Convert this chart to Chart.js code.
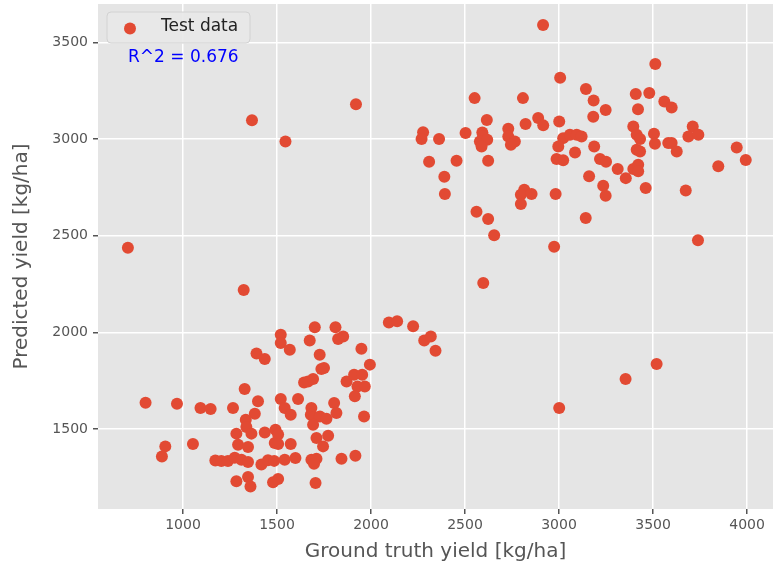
<!DOCTYPE html>
<html>
<head>
<meta charset="utf-8">
<script src="https://cdn.jsdelivr.net/npm/chart.js@4/dist/chart.umd.min.js"></script>
<style>
  html, body { margin: 0; padding: 0; background: #fff; }
  #wrap { width: 775px; height: 569px; }
</style>
</head>
<body>
<div id="wrap"><canvas id="scatterChart"></canvas></div>
<script>
// Test set: ground truth vs predicted yield (kg/ha)
const groundTruth = [
  2915, 1920, 1545, 1367, 2277, 2269, 2362, 2309, 2390, 2393,
  3006, 2551, 2808, 3143, 3184, 3248, 3182, 2616, 2889, 2916,
  2822, 3001, 2503, 2592, 2597, 2579, 2618, 2588, 2623, 2455,
  2730, 2730, 2765, 2744, 3022, 3058, 3094, 3120, 2996, 2987,
  3022, 3085, 3187, 3218, 3250, 3160, 3512, 3408, 3480, 3560,
  3599, 3420, 3395, 3413, 3431, 3505, 3510, 3581, 3599, 3626,
  3711, 3688, 3741, 3945, 3993, 3847, 3413, 3431, 3312, 3355,
  3395, 3421, 3421, 2561, 2623, 2655, 2597, 2815, 2797, 2854,
  2797, 2982, 2974, 3235, 3248, 3142, 3461, 3674, 3739, 707,
  1323, 3001, 3519, 3354,
  2095, 2139, 2224, 2283, 2318, 2343, 1520, 1520, 1568, 1701,
  1674, 1811, 1852, 1825, 1949, 801, 968, 1093, 1147, 1266,
  1328, 1399, 1382, 1391, 1435, 1334, 1337, 1364, 1435, 1284,
  1293, 1346, 906, 888, 1053, 1172, 1204, 1239, 1275, 1311,
  1346, 1417, 1452, 1485, 1541, 1598, 1284, 1346, 1359, 1479,
  1506, 1488, 1727, 1736, 1750, 1994, 1644, 1665, 1692, 1870,
  1910, 1953, 1928, 1967, 1914, 1520, 1612, 1541, 1573, 1683,
  1680, 1697, 1728, 1763, 1804, 1816, 1963, 1692, 1492, 1506,
  1506, 1573, 1710, 1772, 1745, 1683, 1710, 1697, 1843, 1917,
  1705
];
const predicted = [
  3590, 3180, 2988, 3097, 3036, 3000, 3000, 2883, 2805, 2716,
  3317, 3212, 3212, 3259, 3200, 3150, 3116, 3099, 3109, 3071,
  3078, 3091, 3031, 3034, 3013, 2988, 2996, 2962, 2888, 2888,
  3053, 3014, 2988, 2971, 3005, 3022, 3022, 3014, 2962, 2897,
  2890, 2931, 2962, 2897, 2883, 2808, 3388, 3233, 3238, 3195,
  3164, 3155, 3065, 3022, 3000, 3028, 2976, 2980, 2980, 2936,
  3065, 3014, 3022, 2957, 2892, 2859, 2945, 2936, 2845, 2798,
  2845, 2867, 2833, 2624, 2586, 2502, 2255, 2738, 2712, 2716,
  2664, 2716, 2443, 2759, 2707, 2592, 2747, 2734, 2476, 2438,
  2219, 1609, 1836, 1759,
  2051, 2057, 2031, 1958, 1979, 1905, 1988, 1945, 1910, 2026,
  1958, 2026, 1979, 1966, 1915, 1636, 1631, 1609, 1604, 1609,
  1707, 1643, 1579, 1890, 1862, 1548, 1510, 1476, 1482, 1476,
  1419, 1407, 1410, 1358, 1422, 1337, 1334, 1334, 1351, 1341,
  1329, 1316, 1338, 1335, 1341, 1350, 1229, 1252, 1203, 1224,
  1241, 1428, 1884, 1810, 1815, 1833, 1741, 1746, 1759, 1746,
  1781, 1781, 1720, 1720, 1669, 1655, 1655, 1609, 1574, 1609,
  1574, 1562, 1565, 1553, 1634, 1583, 1565, 1522, 1496, 1471,
  1422, 1422, 1453, 1465, 1410, 1341, 1346, 1320, 1346, 1362,
  1221
];
const xTicks = [1000, 1500, 2000, 2500, 3000, 3500, 4000];
const yTicks = [1500, 2000, 2500, 3000, 3500];
const rSquared = 0.676;

const points = groundTruth.map((x, i) => ({ x: x, y: predicted[i] }));

// ggplot-like panel background, legend frame and R^2 note
const panelPlugin = {
  id: 'panel',
  beforeDraw(chart) {
    const { ctx, chartArea: a } = chart;
    ctx.save();
    ctx.fillStyle = '#e5e5e5';
    ctx.fillRect(a.left, a.top, a.right - a.left, a.bottom - a.top);
    ctx.restore();
  },
  afterDraw(chart) {
    const { ctx, chartArea: a } = chart;
    const ds = chart.data.datasets[0];
    const bx = a.left + 9, by = a.top + 8, bw = 143, bh = 31;
    ctx.save();
    ctx.beginPath();
    ctx.roundRect(bx, by, bw, bh, 4);
    ctx.fillStyle = 'rgba(232,232,232,0.9)';
    ctx.fill();
    ctx.strokeStyle = '#d2d2d2';
    ctx.lineWidth = 1;
    ctx.stroke();

    ctx.beginPath();
    ctx.arc(bx + 23, by + 16.5, 6, 0, Math.PI * 2);
    ctx.fillStyle = ds.backgroundColor;
    ctx.fill();

    ctx.font = '17px "DejaVu Sans"';
    ctx.fillStyle = '#222';
    ctx.textBaseline = 'middle';
    ctx.fillText(ds.label, bx + 54, by + 15);

    ctx.fillStyle = '#0000ff';
    ctx.fillText('R^2 = ' + rSquared.toFixed(3), a.left + 30, a.top + 54);
    ctx.restore();
  }
};

const plainTick = v => String(v);

const scatterChart = new Chart(document.getElementById('scatterChart'), {
  type: 'scatter',
  data: {
    datasets: [{
      label: 'Test data',
      data: points,
      backgroundColor: '#e24a33',
      borderWidth: 0,
      pointRadius: 6,
      pointHoverRadius: 6
    }]
  },
  options: {
    responsive: true,
    maintainAspectRatio: false,
    animation: false,
    layout: { autoPadding: false, padding: { top: 4, right: 2, left: 0, bottom: 0 } },
    plugins: {
      legend: { display: false },
      tooltip: { enabled: false }
    },
    scales: {
      x: {
        min: 548,
        max: 4138,
        afterFit: s => { s.height = 60; s.paddingLeft = 0; s.paddingRight = 0; },
        afterBuildTicks: s => { s.ticks = xTicks.map(v => ({ value: v })); },
        grid: { color: '#ffffff', lineWidth: 1.5, tickColor: '#555', tickLength: 5 },
        border: { display: false },
        ticks: { color: '#555', padding: 3, callback: plainTick, font: { family: 'DejaVu Sans', size: 14 } },
        title: {
          display: true,
          text: 'Ground truth yield [kg/ha]',
          color: '#555',
          padding: { top: 0, bottom: 5 },
          font: { family: 'DejaVu Sans', size: 20 }
        }
      },
      y: {
        min: 1086,
        max: 3699,
        afterFit: s => { s.width = 98; s.paddingTop = 0; s.paddingBottom = 0; },
        afterBuildTicks: s => { s.ticks = yTicks.map(v => ({ value: v })); },
        grid: { color: '#ffffff', lineWidth: 1.5, tickColor: '#555', tickLength: 5 },
        border: { display: false },
        ticks: { color: '#555', padding: 5, callback: plainTick, font: { family: 'DejaVu Sans', size: 14 } },
        title: {
          display: true,
          text: 'Predicted yield [kg/ha]',
          color: '#555',
          padding: { top: 10, bottom: 0 },
          font: { family: 'DejaVu Sans', size: 20 }
        }
      }
    }
  },
  plugins: [panelPlugin]
});
</script>
</body>
</html>
